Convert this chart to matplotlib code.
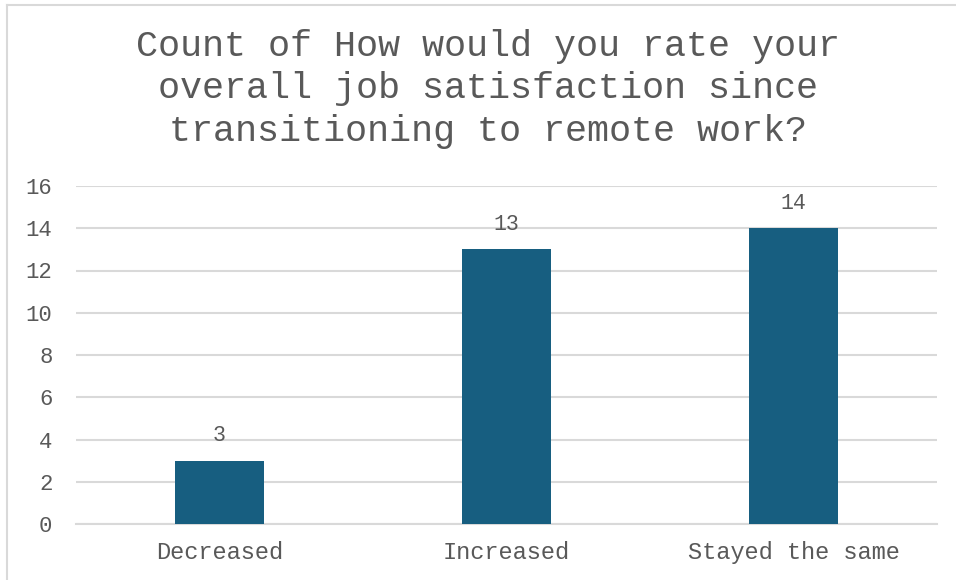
import matplotlib.pyplot as plt
from matplotlib.lines import Line2D

categories = ["Decreased", "Increased", "Stayed the same"]
counts = [3, 13, 14]
yticks = [0, 2, 4, 6, 8, 10, 12, 14, 16]
title = "Count of How would you rate your\noverall job satisfaction since\ntransitioning to remote work?"

bar_color = "#175e80"
text_gray = "#595959"
grid_gray = "#d9d9d9"
mono = ["Liberation Mono", "DejaVu Sans Mono"]

fig = plt.figure(figsize=(9.56, 5.8), dpi=100)
fig.patch.set_facecolor("white")

# chart frame (only left and top edges fall inside the image)
fig.add_artist(Line2D([7 / 956, 7 / 956], [0, 1 - 5 / 580], transform=fig.transFigure,
                      color=grid_gray, lw=1.5))
fig.add_artist(Line2D([7 / 956, 1], [1 - 5 / 580, 1 - 5 / 580], transform=fig.transFigure,
                      color=grid_gray, lw=1.5))

ax = fig.add_axes([76 / 956, 56 / 580, 861 / 956, 338 / 580])
x = range(len(categories))
bars = ax.bar(x, counts, width=0.313, color=bar_color, zorder=3)

ax.set_xlim(-0.5, len(categories) - 0.5)
ax.set_ylim(0, 16)
ax.set_yticks(yticks)
ax.set_xticks(list(x))
ax.set_xticklabels(categories)
ax.yaxis.grid(True, color=grid_gray, lw=1.5, zorder=0)
ax.set_axisbelow(True)
for side in ["top", "right", "left"]:
    ax.spines[side].set_visible(False)
ax.spines["bottom"].set_color(grid_gray)
ax.spines["bottom"].set_linewidth(1.5)
ax.tick_params(axis="both", length=0, colors=text_gray)
ax.tick_params(axis="y", pad=17)
ax.tick_params(axis="x", pad=12)
for lbl in ax.get_yticklabels():
    lbl.set_fontfamily(mono)
    lbl.set_fontsize(16)
for lbl in ax.get_xticklabels():
    lbl.set_fontfamily(mono)
    lbl.set_fontsize(17)

for b, v in zip(bars, counts):
    ax.annotate(str(v), (b.get_x() + b.get_width() / 2, v), xytext=(0, 10.5),
                textcoords="offset points", ha="center", va="bottom",
                fontsize=15.5, color=text_gray, family=mono)

fig.text(488 / 956, 1 - 89 / 580, title, ha="center", va="center",
         fontsize=26.5, color=text_gray, family=mono, linespacing=1.27)

fig.savefig("out.png", dpi=100, facecolor="white")
